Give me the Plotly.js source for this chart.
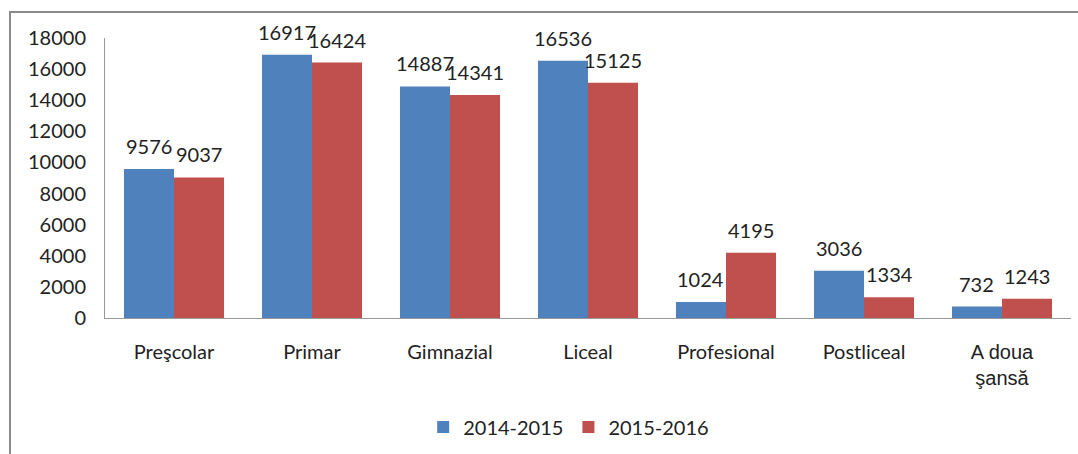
<!DOCTYPE html>
<html><head><meta charset="utf-8">
<script src="https://cdn.plot.ly/plotly-3.0.1.min.js"></script>
<style>body{margin:0;background:#fff}#c{width:1078px;height:454px}</style>
</head><body><div id="c"></div>
<script>
const categories = ["Preşcolar","Primar","Gimnazial","Liceal","Profesional","Postliceal","A doua şansă"];
const tickLabels = ["Preşcolar","Primar","Gimnazial","Liceal","Profesional","Postliceal","<span style=\"font-family:'Liberation Sans',Arial;font-size:20px\">A doua<br>şansă</span>"];
const series1Name = "2014-2015";
const series1 = [9576,16917,14887,16536,1024,3036,732];
const series2Name = "2015-2016";
const series2 = [9037,16424,14341,15125,4195,1334,1243];

const font = "Lato, 'Open Sans', sans-serif";
const BARGAP = 0.275;
const mk = (name, y, color) => ({
  type:"bar", name, x:categories, y,
  marker:{color, line:{width:0}}
});
// data labels as annotations on each bar centre
const half = (1 - BARGAP) / 4;
const annotations = [];
[series1, series2].forEach((s, k) => {
  s.forEach((v, i) => annotations.push({
    xref:"x", yref:"y", x:i + (k === 0 ? -half : half), y:v,
    text:String(v), showarrow:false, yanchor:"bottom", yshift:9,
    font:{family:font,size:20,color:"#222"}
  }));
});
const L=105,R=7,T=38,B=136,W=1078-L-R,H=454-T-B;
Plotly.newPlot("c",[mk(series1Name,series1,"#4F81BD"),mk(series2Name,series2,"#C0504D")],{
  width:1078,height:454,
  margin:{l:L,r:R,t:T,b:B},
  barmode:"group", bargap:BARGAP, bargroupgap:0,
  paper_bgcolor:"#fff", plot_bgcolor:"#fff",
  font:{family:font,size:20,color:"#222"},
  xaxis:{tickmode:"array",tickvals:categories,ticktext:tickLabels,showline:true,linecolor:"#999",linewidth:1,ticks:"",tickfont:{size:20},showgrid:false,ticklabelstandoff:16},
  yaxis:{range:[0,18000],dtick:2000,tickformat:"d",showline:true,linecolor:"#999",linewidth:1,ticks:"",showgrid:false,zeroline:false,tickfont:{size:20},ticklen:0,ticklabelstandoff:14},
  showlegend:true,
  legend:{orientation:"h",x:0.48,xanchor:"center",y:-0.32,yanchor:"top",font:{size:20},itemwidth:30,traceorder:"normal"},
  annotations,
  shapes:[{type:"rect",xref:"paper",yref:"paper",x0:(10-L)/W,x1:(1085-L)/W,y0:(T+H-470)/H,y1:(T+H-12)/H,line:{color:"#8a8a8a",width:2},fillcolor:"rgba(0,0,0,0)",layer:"below"}]
},{staticPlot:true});
</script></body></html>
